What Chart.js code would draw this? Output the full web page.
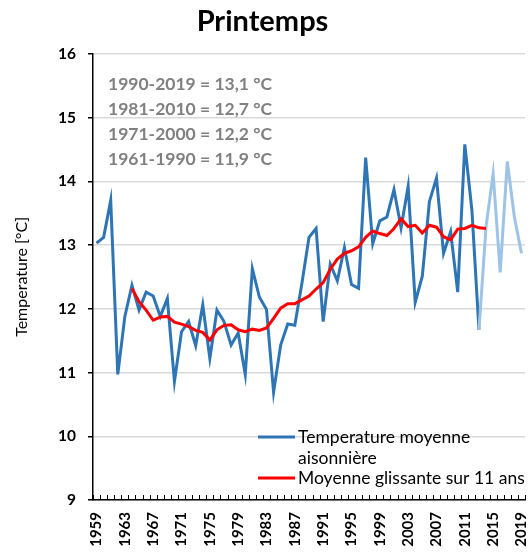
<!DOCTYPE html>
<html lang="fr">
<head>
<meta charset="utf-8">
<title>Printemps</title>
<script src="https://cdn.jsdelivr.net/npm/chart.js@4.4.1/dist/chart.umd.min.js"></script>
<style>
  html, body { margin: 0; padding: 0; background: #ffffff; }
  #wrap { width: 531px; height: 553px; position: relative; }
</style>
</head>
<body>
<div id="wrap"><canvas id="springChart"></canvas></div>
<script>
const years = [
  1959, 1960, 1961, 1962, 1963, 1964, 1965, 1966, 1967, 1968,
  1969, 1970, 1971, 1972, 1973, 1974, 1975, 1976, 1977, 1978,
  1979, 1980, 1981, 1982, 1983, 1984, 1985, 1986, 1987, 1988,
  1989, 1990, 1991, 1992, 1993, 1994, 1995, 1996, 1997, 1998,
  1999, 2000, 2001, 2002, 2003, 2004, 2005, 2006, 2007, 2008,
  2009, 2010, 2011, 2012, 2013, 2014, 2015, 2016, 2017, 2018,
  2019,
];

// temperature moyenne de printemps
const springTemp = [
  13.03, 13.12, 13.70, 10.97, 11.88, 12.37, 11.98, 12.26, 12.20, 11.88,
  12.16, 10.86, 11.64, 11.80, 11.42, 12.06, 11.22, 11.98, 11.80, 11.43,
  11.62, 10.97, 12.63, 12.18, 11.99, 10.69, 11.43, 11.76, 11.74, 12.40,
  13.12, 13.26, 11.80, 12.70, 12.44, 12.96, 12.38, 12.32, 14.37, 13.02,
  13.38, 13.44, 13.87, 13.27, 13.92, 12.10, 12.51, 13.68, 14.05, 12.87,
  13.21, 12.26, 14.58, 13.55, 11.67, 13.29, 14.12, 12.57, 14.31, 13.44,
  12.87,
];

// moyenne glissante sur 11 ans (centree), 1964 -> 2014
const movingAvg = [
  null, null, null, null, null, 12.32, 12.11, 11.98, 11.82, 11.87,
  11.88, 11.79, 11.76, 11.72, 11.66, 11.63, 11.51, 11.67, 11.74, 11.75,
  11.67, 11.64, 11.68, 11.66, 11.70, 11.85, 12.01, 12.08, 12.08, 12.14,
  12.20, 12.31, 12.41, 12.62, 12.78, 12.87, 12.91, 12.97, 13.12, 13.22,
  13.18, 13.15, 13.26, 13.41, 13.29, 13.31, 13.19, 13.31, 13.28, 13.13,
  13.08, 13.25, 13.26, 13.31, 13.27, 13.26, null, null, null, null,
  null,
];

const yTicks = [9, 10, 11, 12, 13, 14, 15, 16];
const periodNormals = [
  "1990-2019 = 13,1 °C",
  "1981-2010 = 12,7 °C",
  "1971-2000 = 12,2 °C",
  "1961-1990 = 11,9 °C",
];
const legendLines = [
  ["Temperature moyenne", "aisonnière"],
  ["Moyenne glissante sur 11 ans"],
];

const lightFromYear = 2013;
const darkBlue = "#2E75B6";
const lightBlue = "#9DC3E6";
const fontFamily = "Lato, 'Open Sans', Arial, sans-serif";

const lightFromIndex = years.indexOf(lightFromYear);

// petits traits de graduation vers l'interieur sur l'axe des x
const innerTicks = {
  id: "innerTicks",
  afterDraw(chart) {
    const xs = chart.scales.x;
    const ctx = chart.ctx;
    const n = xs.ticks.length;
    ctx.save();
    ctx.strokeStyle = "#000";
    ctx.lineWidth = 1;
    for (let i = 0; i <= n; i++) {
      const x = Math.round(xs.left + (i * xs.width) / n) + 0.5;
      ctx.beginPath();
      ctx.moveTo(x, xs.top);
      ctx.lineTo(x, xs.top - 5);
      ctx.stroke();
    }
    ctx.restore();
  },
};

const normalsText = {
  id: "normalsText",
  beforeDatasetsDraw(chart) {
    const area = chart.chartArea;
    const ctx = chart.ctx;
    ctx.save();
    ctx.font = `bold 17.5px ${fontFamily}`;
    ctx.fillStyle = "#808080";
    ctx.textBaseline = "middle";
    periodNormals.forEach((line, i) => {
      ctx.fillText(line, area.left + 15, area.top + 31 + i * 25);
    });
    ctx.restore();
  },
};

const insideLegend = {
  id: "insideLegend",
  afterDatasetsDraw(chart) {
    const area = chart.chartArea;
    const ctx = chart.ctx;
    const sets = chart.data.datasets;
    const rowsY = [area.bottom - 63, area.bottom - 22];
    ctx.save();
    ctx.font = `17.5px ${fontFamily}`;
    ctx.fillStyle = "#000";
    ctx.textBaseline = "middle";
    sets.forEach((ds, i) => {
      const y = rowsY[i];
      ctx.strokeStyle = ds.borderColor;
      ctx.lineWidth = 3;
      ctx.beginPath();
      ctx.moveTo(area.right - 267, y);
      ctx.lineTo(area.right - 230, y);
      ctx.stroke();
      legendLines[i].forEach((txt, k) => {
        ctx.fillText(txt, area.right - 227, y + k * 21);
      });
    });
    ctx.restore();
  },
};

new Chart(document.querySelector("#springChart"), {
  type: "line",
  data: {
    labels: years,
    datasets: [
      {
        label: "Temperature moyenne saisonnière",
        data: springTemp,
        borderColor: darkBlue,
        borderWidth: 3,
        pointRadius: 0,
        tension: 0,
        order: 2,
        segment: {
          borderColor: (c) => (c.p0DataIndex >= lightFromIndex ? lightBlue : darkBlue),
        },
      },
      {
        label: "Moyenne glissante sur 11 ans",
        data: movingAvg,
        borderColor: "#FF0000",
        borderWidth: 3,
        pointRadius: 0,
        tension: 0,
        order: 1,
      },
    ],
  },
  options: {
    responsive: true,
    maintainAspectRatio: false,
    animation: false,
    layout: { padding: { left: 0, right: 6, top: 0, bottom: 0 } },
    plugins: {
      legend: { display: false },
      tooltip: { enabled: false },
      title: {
        display: true,
        text: "Printemps",
        color: "#000",
        font: { family: fontFamily, size: 29, weight: "bold" },
        padding: { top: 4, bottom: 15 },
      },
    },
    scales: {
      x: {
        type: "category",
        offset: true,
        grid: { display: false },
        border: { color: "#000", width: 1.5 },
        ticks: {
          autoSkip: false,
          minRotation: 90,
          maxRotation: 90,
          padding: 4,
          color: "#000",
          font: { family: fontFamily, size: 15, weight: "bold" },
          callback: (val, idx) => (idx % 4 === 0 ? String(years[idx]) : ""),
        },
        afterFit: (scale) => {
          scale.height = 53;
          scale.paddingLeft = 0;
          scale.paddingRight = 0;
        },
      },
      y: {
        min: yTicks[0],
        max: yTicks[yTicks.length - 1],
        afterBuildTicks: (scale) => { scale.ticks = yTicks.map((v) => ({ value: v })); },
        grid: { color: "#D9D9D9", lineWidth: 1.5, tickColor: "#000", tickLength: 5 },
        border: { color: "#000", width: 1.5 },
        ticks: {
          color: "#000",
          padding: 12,
          font: { family: fontFamily, size: 15.5, weight: "bold" },
        },
        title: {
          display: true,
          text: "Temperature [°C]",
          color: "#000",
          padding: { top: 12, bottom: 4 },
          font: { family: fontFamily, size: 16 },
        },
        afterFit: (scale) => { scale.width = 93; },
      },
    },
  },
  plugins: [innerTicks, normalsText, insideLegend],
});
</script>
</body>
</html>
